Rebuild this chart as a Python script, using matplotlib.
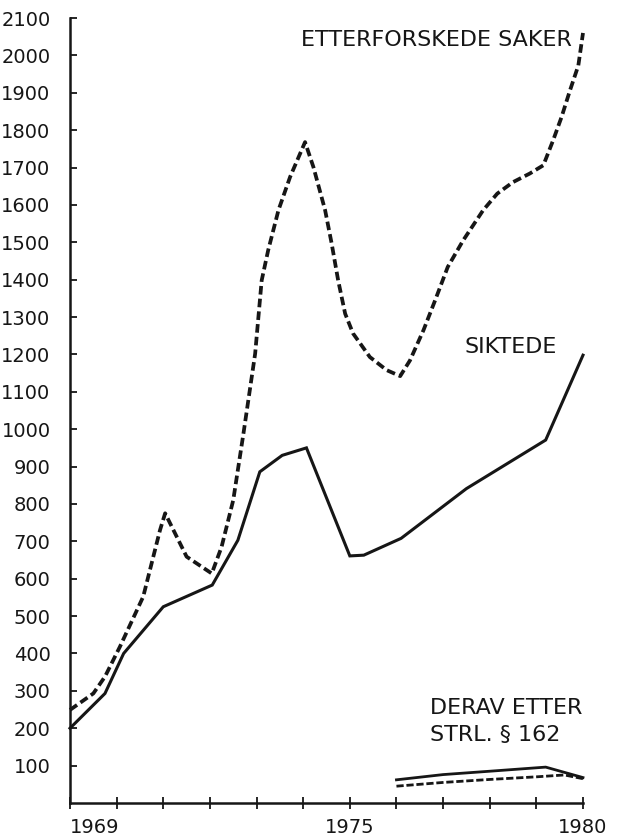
import matplotlib
matplotlib.use("Agg")
import matplotlib.pyplot as plt

# ---- data ----
saker_years = [1969.0, 1969.5, 1969.75, 1970.07, 1970.57, 1970.93, 1971.04, 1971.5, 1972.04,
               1972.25, 1972.5, 1972.72, 1972.97, 1973.11, 1973.25, 1973.47, 1973.72, 1974.04,
               1974.22, 1974.47, 1974.61, 1974.75, 1974.9, 1975.07, 1975.43, 1975.79, 1976.08,
               1976.29, 1976.58, 1976.83, 1977.1, 1977.43, 1977.86, 1978.16, 1978.5, 1978.86,
               1979.15, 1979.36, 1979.54, 1979.72, 1979.9, 1980.0]
saker_values = [249, 293, 338, 418, 552, 730, 775, 659, 614,
                685, 810, 989, 1202, 1398, 1479, 1586, 1675, 1768,
                1701, 1586, 1497, 1398, 1309, 1256, 1193, 1158, 1142,
                1184, 1265, 1345, 1434, 1505, 1586, 1630, 1661, 1684,
                1706, 1773, 1835, 1906, 1973, 2060]

siktede_years = [1969.0, 1969.75, 1970.15, 1971.0, 1972.05, 1972.6, 1973.07, 1973.55, 1974.07,
                 1975.0, 1975.3, 1976.1, 1977.5, 1979.2, 1980.0]
siktede_values = [200, 293, 400, 525, 583, 703, 886, 930, 950,
                  661, 663, 708, 841, 971, 1198]

s162_siktede_years = [1976.0, 1977.0, 1978.0, 1979.2, 1980.0]
s162_siktede_values = [62, 76, 85, 96, 68]
s162_saker_years = [1976.0, 1977.0, 1978.0, 1979.0, 1979.6, 1980.0]
s162_saker_values = [45, 55, 63, 70, 75, 65]

y_ticks = list(range(100, 2101, 100))
x_ticks = list(range(1969, 1981))
x_labels = {1969: "1969", 1975: "1975", 1980: "1980"}

# ---- figure ----
W, H = 622, 839
fig = plt.figure(figsize=(W / 100, H / 100), dpi=100)
ax = fig.add_axes([70 / W, (H - 803) / H, (583 - 70) / W, (803 - 18) / H])

ink = "#161616"
ax.plot(saker_years, saker_values, color=ink, lw=2.7, linestyle=(0, (2.3, 1.1)),
        dash_capstyle="butt", clip_on=False)
ax.plot(siktede_years, siktede_values, color=ink, lw=2.2, clip_on=False,
        solid_joinstyle="miter")
ax.plot(s162_siktede_years, s162_siktede_values, color=ink, lw=2.0, clip_on=False)
ax.plot(s162_saker_years, s162_saker_values, color=ink, lw=2.0,
        linestyle=(0, (2.6, 1.0)), clip_on=False)

ax.set_xlim(1969, 1980)
ax.set_ylim(0, 2100)

for side in ("top", "right"):
    ax.spines[side].set_visible(False)
for side in ("left", "bottom"):
    ax.spines[side].set_linewidth(1.8)
    ax.spines[side].set_color(ink)

ax.set_yticks(y_ticks)
ax.set_yticklabels([str(v) for v in y_ticks])
ax.tick_params(axis="y", direction="in", length=5, width=1.3, pad=14,
               labelsize=14, colors=ink)
ax.set_xticks(x_ticks)
ax.set_xticklabels([x_labels.get(x, "") for x in x_ticks])
ax.tick_params(axis="x", direction="inout", length=9, width=1.3, pad=6,
               labelsize=14, colors=ink)
ax.get_xticklabels()[0].set_horizontalalignment("left")

lab_kw = dict(fontsize=16, color=ink)
ax.text(1979.76, 2040, "ETTERFORSKEDE SAKER", ha="right", va="center", **lab_kw)
ax.text(1979.45, 1219, "SIKTEDE", ha="right", va="center", **lab_kw)
ax.text(1976.72, 254, "DERAV ETTER", ha="left", va="center", **lab_kw)
ax.text(1976.72, 182, "STRL. § 162", ha="left", va="center", **lab_kw)

fig.savefig("out.png", dpi=100, facecolor="white")
